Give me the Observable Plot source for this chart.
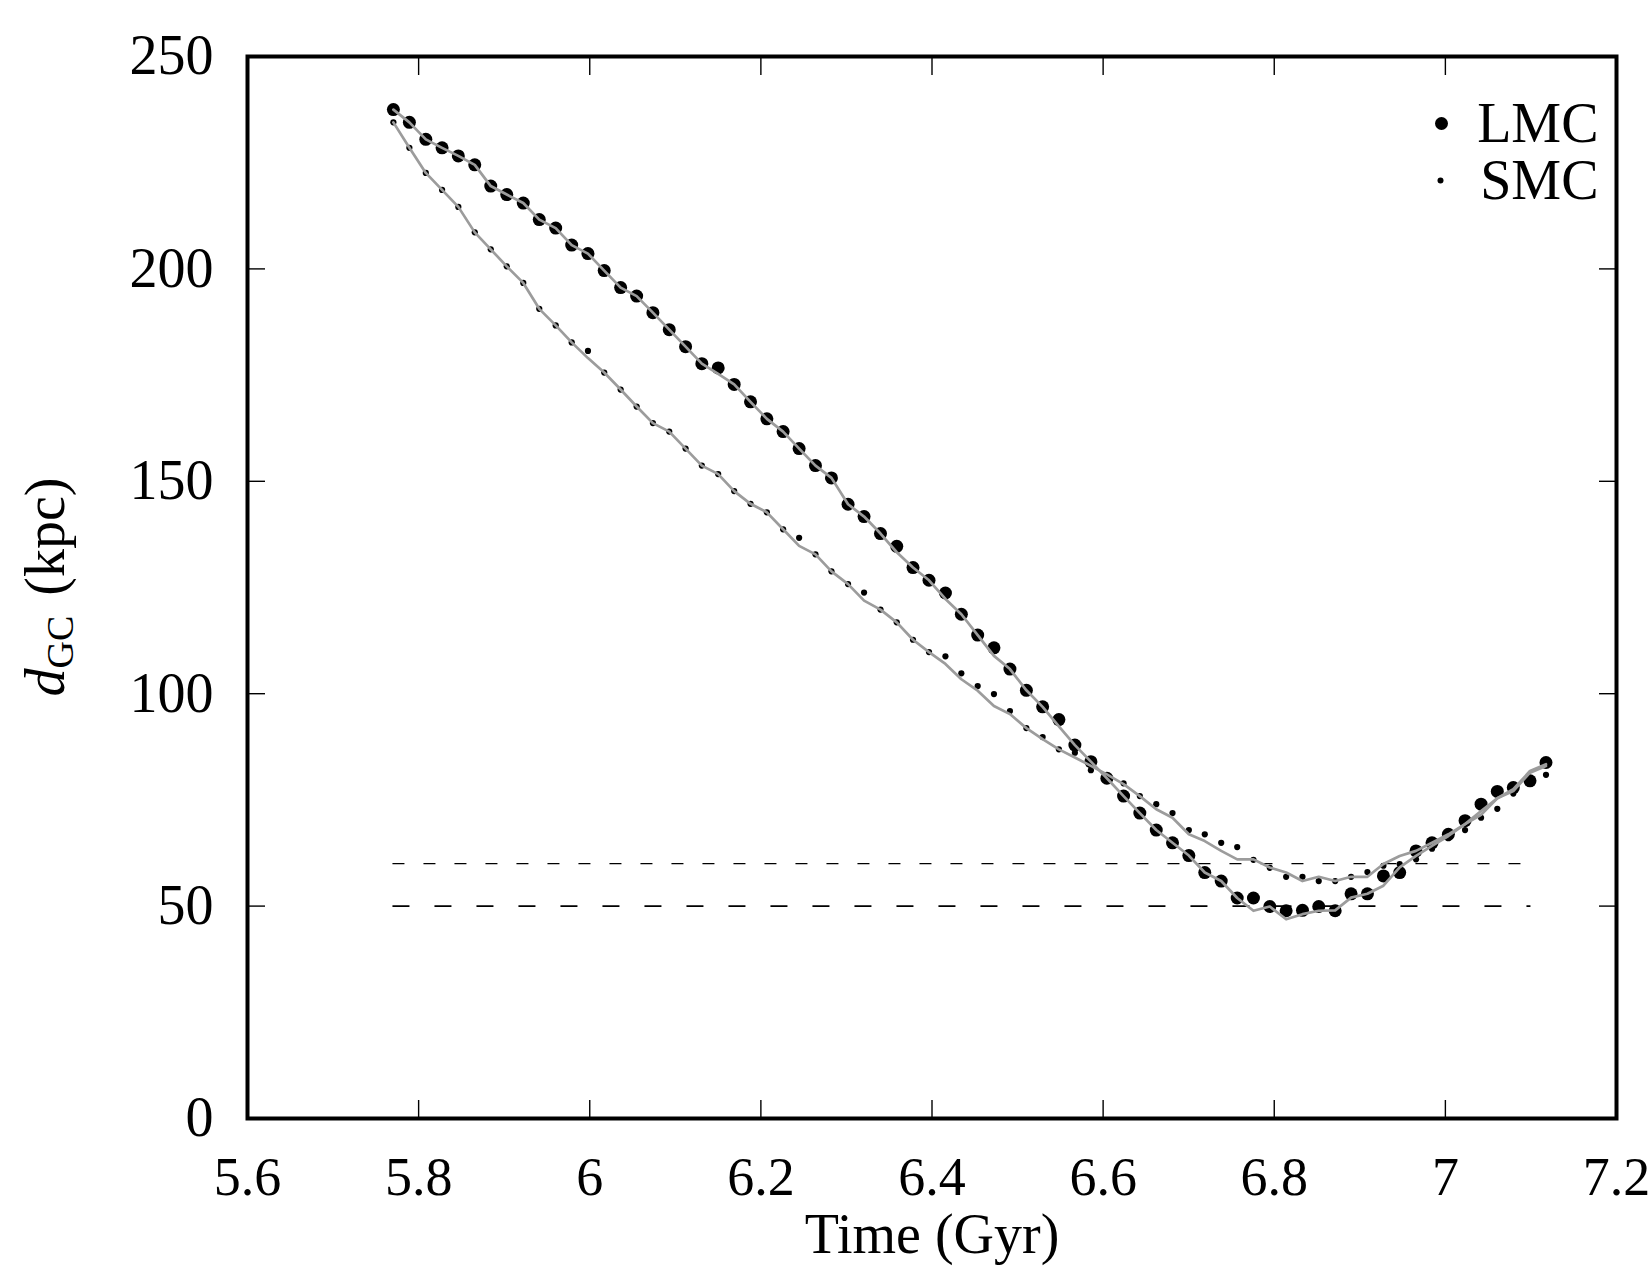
<!DOCTYPE html>
<html>
<head>
<meta charset="utf-8">
<script src="https://cdn.jsdelivr.net/npm/d3@7"></script>
<script src="https://cdn.jsdelivr.net/npm/@observablehq/plot@0.6"></script>
<style>
  body { margin: 0; background: #ffffff; }
  #chart svg { display: block; }
</style>
</head>
<body>
<div id="chart"></div>
<script>
// ---- data ----
const time = [5.7705,5.7892,5.8084,5.8274,5.8464,5.8656,5.8843,5.9030,5.9223,5.9410,5.9602,5.9789,5.9979,
  6.0169,6.0361,6.0548,6.0738,6.0929,6.1120,6.1310,6.1501,6.1688,6.1879,
  6.2070,6.2260,6.2447,6.2638,6.2825,6.3019,6.3206,6.3398,6.3588,6.3778,6.3965,
  6.4157,6.4343,6.4534,6.4724,6.4911,6.5103,6.5293,6.5483,6.5670,6.5857,
  6.6044,6.6239,6.6429,6.6621,6.6811,6.7002,6.7188,6.7380,6.7567,6.7757,6.7948,
  6.8139,6.8330,6.8520,6.8712,6.8898,6.9089,6.9276,6.9466,6.9657,6.9844,
  7.0035,7.0230,7.0417,7.0607,7.0794,7.0989,7.1176];

const lmcDots = [237.5,234.5,230.5,228.5,226.6,224.5,219.5,217.5,215.5,211.6,209.6,205.6,203.6,
  199.6,195.6,193.6,189.7,185.7,181.7,177.7,176.7,172.8,168.7,
  164.7,161.7,157.7,153.7,150.8,144.6,141.7,137.7,134.7,129.7,126.7,
  123.7,118.7,113.8,110.8,105.8,100.8,96.9,93.9,87.9,84.0,
  80.1,75.9,71.9,67.9,64.9,61.9,57.9,55.9,51.9,51.9,49.9,
  48.9,49.0,49.9,48.9,52.9,52.9,57.1,57.9,63.0,64.9,
  66.9,70.1,74.0,77.0,77.9,79.5,83.8];

const lmcCurve = [237.5,234.5,230.5,228.5,226.6,224.5,219.5,217.5,215.5,211.6,209.6,205.6,203.6,
  199.6,195.6,193.6,189.7,185.7,181.7,177.7,175.3,172.8,168.7,
  164.7,161.7,157.7,153.7,150.8,144.6,141.7,137.7,133.3,129.7,126.7,
  122.3,118.7,113.8,108.9,105.8,100.8,96.9,92.3,87.9,84.0,
  80.1,75.9,71.9,67.9,64.9,61.9,57.9,55.9,51.9,48.9,49.9,
  46.9,48.1,48.9,49.0,52.0,52.9,54.8,59.1,61.8,64.2,
  66.5,69.3,72.4,75.4,77.5,81.8,83.4];

const smcDots = [234.5,228.5,222.6,218.6,214.6,208.6,204.6,200.6,196.7,190.6,186.7,182.7,180.7,
  175.6,171.6,167.6,163.7,161.7,157.7,153.7,151.7,147.7,144.7,
  142.7,138.7,136.7,132.8,128.8,125.8,123.8,119.8,116.8,112.7,109.8,
  108.8,104.8,101.8,99.9,95.9,91.9,89.8,86.9,86.1,82.0,
  80.5,78.9,75.9,74.0,71.9,67.9,66.9,64.9,63.9,60.9,59.0,
  56.9,56.9,55.9,55.9,56.9,58.0,59.5,59.9,61.0,63.5,
  66.0,67.9,70.8,72.9,76.5,79.0,80.9];

const smcCurve = [234.5,228.5,222.6,218.6,214.6,208.6,204.6,200.6,196.7,190.6,186.7,182.7,179.0,
  175.6,171.6,167.6,163.7,161.7,157.7,153.7,151.7,147.7,144.7,
  142.7,138.7,134.8,132.8,128.8,125.8,121.9,119.8,116.8,112.7,109.8,
  107.0,103.4,100.7,97.1,95.2,91.9,89.3,86.9,85.0,83.0,
  81.0,78.7,75.9,72.8,70.8,66.9,65.3,63.0,61.0,61.0,59.1,
  57.9,55.9,56.9,55.9,56.9,56.9,59.9,61.8,63.0,64.9,
  66.9,69.3,71.5,75.4,77.1,81.4,83.0];

const dashLevels = [60, 50];
const dashStart = 5.77;
const dashEnd = 7.10;

const xTicks = [5.6, 5.8, 6, 6.2, 6.4, 6.6, 6.8, 7, 7.2];
const yTicks = [0, 50, 100, 150, 200, 250];
const seriesNames = ["LMC", "SMC"];
const xTitle = "Time (Gyr)";

// ---- tables built from the arrays ----
const lmcRows = time.map((t, i) => ({t, dot: lmcDots[i], curve: lmcCurve[i]}));
const smcRows = time.map((t, i) => ({t, dot: smcDots[i], curve: smcCurve[i]}));

const FONT = "'Liberation Serif', 'Times New Roman', Times, serif";
const FS = 56;
const GRAY = "#9c9c9c";

const chart = Plot.plot({
  width: 1650,
  height: 1275,
  marginLeft: 247,
  marginRight: 34,
  marginTop: 56,
  marginBottom: 157,
  style: {fontFamily: FONT, fontSize: FS + "px", color: "black", background: "white"},
  x: {domain: [5.6, 7.2], axis: null},
  y: {domain: [0, 250], axis: null},
  marks: [
    // dashed reference levels
    Plot.ruleY([dashLevels[0]], {y: d => d, x1: dashStart, x2: dashEnd, stroke: "black", strokeWidth: 1.4, strokeDasharray: "12,19"}),
    Plot.ruleY([dashLevels[1]], {y: d => d, x1: dashStart, x2: dashEnd, stroke: "black", strokeWidth: 1.6, strokeDasharray: "17,25"}),
    // points
    Plot.dot(lmcRows, {x: "t", y: "dot", r: 6.5, fill: "black", stroke: "none"}),
    Plot.dot(smcRows, {x: "t", y: "dot", r: 3.1, fill: "black", stroke: "none"}),
    // grey curves
    Plot.line(lmcRows, {x: "t", y: "curve", stroke: GRAY, strokeWidth: 2.7}),
    Plot.line(smcRows, {x: "t", y: "curve", stroke: GRAY, strokeWidth: 2.7}),
    // legend
    Plot.dot([seriesNames[0]], {frameAnchor: "top-right", dx: -175, dy: 67, r: 6.5, fill: "black", stroke: "none"}),
    Plot.dot([seriesNames[1]], {frameAnchor: "top-right", dx: -176, dy: 124, r: 3, fill: "black", stroke: "none"}),
    Plot.text([seriesNames[0]], {text: d => d, frameAnchor: "top-right", dx: -18, dy: 68, textAnchor: "end", lineAnchor: "middle", fontSize: FS, fill: "black"}),
    Plot.text([seriesNames[1]], {text: d => d, frameAnchor: "top-right", dx: -18, dy: 125, textAnchor: "end", lineAnchor: "middle", fontSize: FS, fill: "black"}),
    // inward ticks on all four sides
    Plot.axisX(xTicks, {anchor: "bottom", tickSize: -18, fill: "none", label: null, strokeWidth: 1.4}),
    Plot.axisX(xTicks, {anchor: "top", tickSize: -18, fill: "none", label: null, strokeWidth: 1.4}),
    Plot.axisY(yTicks, {anchor: "left", tickSize: -18, fill: "none", label: null, strokeWidth: 1.4}),
    Plot.axisY(yTicks, {anchor: "right", tickSize: -18, fill: "none", label: null, strokeWidth: 1.4}),
    // tick labels
    Plot.axisX(xTicks, {anchor: "bottom", tickSize: 0, tickPadding: 38, tickFormat: d => String(d), label: null, fontSize: 54, fill: "black"}),
    Plot.axisY(yTicks, {anchor: "left", tickSize: 0, tickPadding: 34, tickFormat: d => String(d), label: null, fontSize: FS, fill: "black"}),
    // x title
    Plot.text([xTitle], {text: d => d, frameAnchor: "bottom", dy: 95, lineAnchor: "top", fontSize: FS, fill: "black"}),
    // frame
    Plot.frame({stroke: "black", strokeWidth: 4})
  ]
});

document.getElementById("chart").appendChild(chart);

// y-axis title with italic d and subscript GC
(function () {
  const ns = "http://www.w3.org/2000/svg";
  const cy = 56 + (1275 - 157 - 56) / 2;
  const txt = document.createElementNS(ns, "text");
  txt.setAttribute("transform", `translate(64,${cy}) rotate(-90)`);
  txt.setAttribute("text-anchor", "middle");
  txt.setAttribute("font-family", FONT);
  txt.setAttribute("font-size", FS);
  txt.setAttribute("fill", "black");
  const t1 = document.createElementNS(ns, "tspan");
  t1.setAttribute("font-style", "italic");
  t1.textContent = "d";
  const t2 = document.createElementNS(ns, "tspan");
  t2.setAttribute("font-size", 38);
  t2.setAttribute("dy", 9);
  t2.textContent = "GC";
  const t3 = document.createElementNS(ns, "tspan");
  t3.setAttribute("dy", -9);
  t3.setAttribute("dx", 6);
  t3.textContent = " (kpc)";
  txt.appendChild(t1); txt.appendChild(t2); txt.appendChild(t3);
  chart.appendChild(txt);
})();
</script>
</body>
</html>
